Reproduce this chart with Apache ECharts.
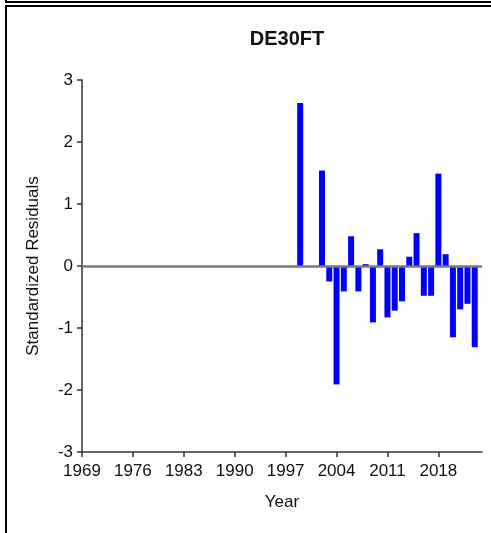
<!DOCTYPE html>
<html>
<head>
<meta charset="utf-8">
<script src="https://cdn.jsdelivr.net/npm/echarts@6/dist/echarts.min.js"></script>
<style>
html,body{margin:0;padding:0;background:#fff;}
#chart{width:491px;height:533px;}
</style>
</head>
<body>
<div id="chart"></div>
<script>
// Axis categories (years shown on the x axis)
const firstYear = 1969;
const lastYear = 2024;
// Bars: year and standardized residual
const years = [1999, 2002, 2003, 2004, 2005, 2006, 2007, 2008, 2009, 2010, 2011, 2012, 2013, 2014, 2015, 2016, 2017, 2018, 2019, 2020, 2021, 2022, 2023];
const residuals = [2.63, 1.54, -0.25, -1.91, -0.41, 0.48, -0.41, 0.03, -0.91, 0.27, -0.83, -0.72, -0.57, 0.15, 0.53, -0.48, -0.48, 1.49, 0.19, -1.15, -0.70, -0.61, -1.31];
// Y tick values
const yTicks = [-3, -2, -1, 0, 1, 2, 3];

const categories = [];
for (let y = firstYear; y <= lastYear; y++) categories.push(String(y));
const seriesData = categories.map(c => {
  const i = years.indexOf(Number(c));
  return i >= 0 ? residuals[i] : null;
});

const font = 'Liberation Sans, Arial, sans-serif';
const chart = echarts.init(document.getElementById('chart'));
chart.setOption({
  animation: false,
  backgroundColor: '#fff',
  title: {
    text: 'DE30FT',
    left: 282, top: 24, textAlign: 'center',
    textStyle: { fontFamily: font, fontSize: 20, fontWeight: 'bold', color: '#111' }
  },
  grid: { left: 82, right: 9, top: 80, bottom: 81 },
  xAxis: {
    type: 'category',
    data: categories,
    boundaryGap: false,
    name: 'Year', nameLocation: 'middle', nameGap: 42,
    nameTextStyle: { fontFamily: font, fontSize: 17, color: '#111' },
    axisLine: { onZero: false, lineStyle: { color: '#333', width: 1.5 } },
    axisTick: { interval: 6, length: 5, lineStyle: { color: '#333', width: 1.5 } },
    axisLabel: { interval: 6, margin: 11, fontFamily: font, fontSize: 17, color: '#111' },
    splitLine: { show: false }
  },
  yAxis: {
    type: 'value',
    min: yTicks[0], max: yTicks[yTicks.length - 1], interval: 1,
    name: 'Standardized Residuals', nameLocation: 'middle', nameGap: 40,
    nameTextStyle: { fontFamily: font, fontSize: 17, color: '#111' },
    axisLine: { show: true, lineStyle: { color: '#333', width: 1.5 } },
    axisTick: { show: true, length: 5, lineStyle: { color: '#333', width: 1.5 } },
    axisLabel: { margin: 9, fontFamily: font, fontSize: 17, color: '#111' },
    splitLine: { show: false }
  },
  series: [{
    type: 'bar',
    data: seriesData,
    barWidth: 6,
    itemStyle: { color: '#0000FF' },
    markLine: {
      silent: true, symbol: 'none', label: { show: false },
      lineStyle: { color: '#7a7a7a', width: 2.5, type: 'solid' },
      emphasis: { disabled: true },
      data: [{ yAxis: 0 }]
    }
  }],
  graphic: [
    { type: 'polyline', shape: { points: [[6, 0], [6, 2], [491, 2]] }, style: { stroke: '#000', lineWidth: 2, fill: null } },
    { type: 'polyline', shape: { points: [[6, 533], [6, 6], [491, 6]] }, style: { stroke: '#000', lineWidth: 2, fill: null } }
  ]
});
</script>
</body>
</html>
